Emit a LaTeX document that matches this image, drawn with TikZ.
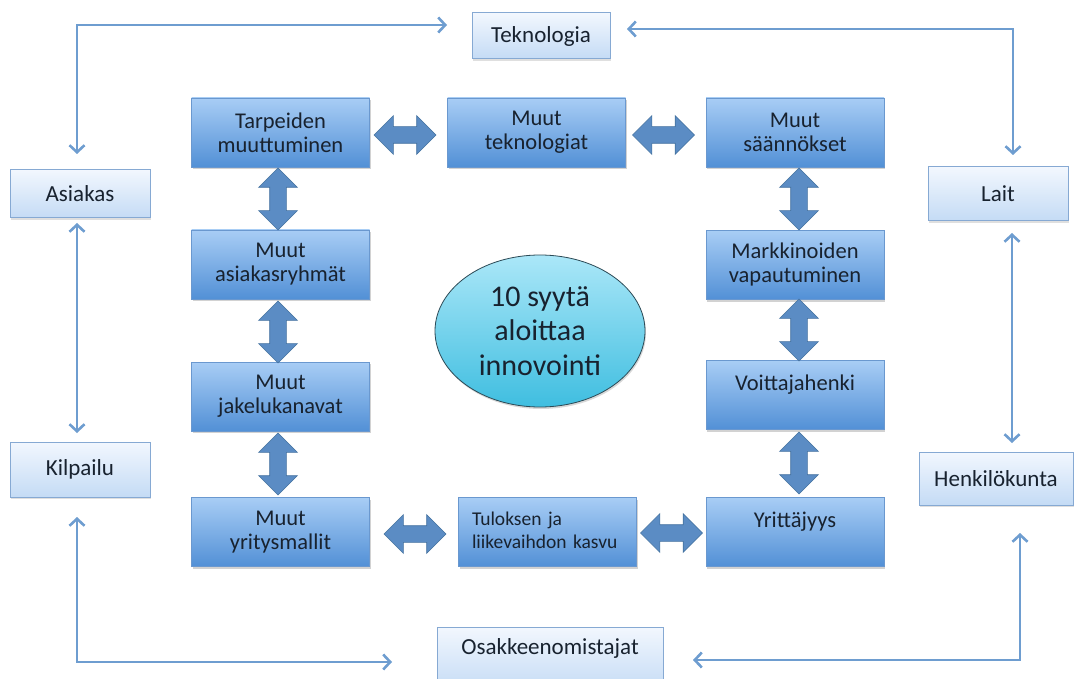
\documentclass[tikz,border=0pt]{standalone}
\usepackage{fontspec}
\setmainfont{Carlito}
\usetikzlibrary{shapes.geometric,shapes.arrows,arrows.meta,shadows,calc}

\definecolor{txt}{HTML}{18222F}
\definecolor{boxtop}{HTML}{A8CDF5}
\definecolor{boxbot}{HTML}{5290D6}
\definecolor{boxline}{HTML}{6A98CF}
\definecolor{outtop}{HTML}{F2F7FE}
\definecolor{outbot}{HTML}{C4DBF5}
\definecolor{outline}{HTML}{86A9D3}
\definecolor{arrfill}{HTML}{5B8CC4}
\definecolor{arrline}{HTML}{44729F}
\definecolor{linkcol}{HTML}{6E9DD0}
\definecolor{elltop}{HTML}{ABE7F8}
\definecolor{ellbot}{HTML}{3FBEE0}
\definecolor{ellline}{HTML}{2C4A56}

\begin{document}
\begin{tikzpicture}[x=1pt,y=-1pt,
  factor/.style={draw=boxline, line width=0.6pt, top color=boxtop, bottom color=boxbot,
    minimum width=178pt, minimum height=69pt, inner sep=0pt, align=center,
    font=\fontsize{22.5}{24}\selectfont, text=txt,
    drop shadow={opacity=0.35, shadow xshift=1pt, shadow yshift=-2pt}},
  outer/.style={draw=outline, line width=1pt, top color=outtop, bottom color=outbot,
    inner sep=0pt, align=center, font=\fontsize{23}{24}\selectfont, text=txt,
    drop shadow={opacity=0.25, shadow xshift=1pt, shadow yshift=-2pt}},
  link/.style={draw=linkcol, line width=2.6pt,
    {Straight Barb[length=7pt,width=15pt]}-{Straight Barb[length=7pt,width=15pt]}},
  twoway/.style={double arrow, draw=arrline, fill=arrfill, line width=0.6pt,
    minimum height=62pt, minimum width=38pt, double arrow head extend=11pt,
    inner xsep=0pt, inner ysep=8pt},
]
\useasboundingbox (0,0) rectangle (1074,679);
\clip (0,0) rectangle (1074,679);
\fill[white] (0,0) rectangle (1074,679);

% inner ring of factors
\node[factor] (tarp)  at (280.5,132.5) {Tarpeiden\\muuttuminen};
\node[factor] (mtek)  at (536.5,132.5) {Muut\\teknologiat};
\node[factor] (msaan) at (795,132.5)   {Muut\\säännökset};
\node[factor] (masi)  at (280.5,264.5) {Muut\\asiakasryhmät};
\node[factor] (mark)  at (795,265)     {Markkinoiden\\vapautuminen};
\node[factor] (mjak)  at (280.5,396.5) {Muut\\jakelukanavat};
\node[factor] (voit)  at (795,395)     {Voittajahenki\\\phantom{X}};
\node[factor] (myri)  at (280.5,532)   {Muut\\yritysmallit};
\node[factor, align=left, text width=151pt, font=\fontsize{19.5}{23}\selectfont,
      text depth=26pt]
      (tulos) at (547.5,532) {Tuloksen ja\\liikevaihdon kasvu};
\node[factor] (yrit)  at (795,532)     {Yrittäjyys\\\phantom{X}};

% centre
\node[ellipse, draw=ellline, line width=0.8pt, top color=elltop, bottom color=ellbot,
      minimum width=210pt, minimum height=152pt, inner sep=0pt, align=center,
      font=\fontsize{30}{34.5}\selectfont, text=txt,
      drop shadow={opacity=0.3, shadow xshift=1pt, shadow yshift=-2pt}]
      (core) at (540,331) {10 syytä\\aloittaa\\innovointi};

% outer stakeholders
\node[outer, minimum width=138pt, minimum height=46pt] (tekno) at (541,36)    {Teknologia};
\node[outer, minimum width=140pt, minimum height=48pt] (asiak) at (80,194)    {Asiakas};
\node[outer, minimum width=140pt, minimum height=55pt] (kilp)  at (80,469.5)  {Kilpailu};
\node[outer, minimum width=140pt, minimum height=54pt] (lait)  at (998,194)   {Lait};
\node[outer, minimum width=154pt, minimum height=53pt] (henk)  at (996,478.5) {Henkilökunta};
\node[outer, minimum width=226pt, minimum height=64pt] (osak)  at (550,659)   {Osakkeenomistajat\\\phantom{X}};

% block arrows between factors
\node[twoway] (t1) at (405,135)   {};
\node[twoway] (t2) at (663.5,135) {};
\node[twoway] (t3) at (415,534)   {};
\node[twoway] (t4) at (671.5,533) {};
\node[twoway, rotate=90] (t5) at (278,199) {};
\node[twoway, rotate=90] (t6) at (278,332) {};
\node[twoway, rotate=90] (t7) at (278,464) {};
\node[twoway, rotate=90] (t8) at (799,199) {};
\node[twoway, rotate=90] (t9) at (799,330) {};
\node[twoway, rotate=90] (t10) at (799,463) {};

% outer connector ends
\coordinate (asiakN) at (77,154);
\coordinate (teknoW) at (447,25);
\coordinate (teknoE) at (627,29);
\coordinate (laitN)  at (1013,155);
\coordinate (asiakS) at (77,223);
\coordinate (kilpN)  at (77,433);
\coordinate (kilpS)  at (77,517);
\coordinate (osakW)  at (392,662);
\coordinate (laitS)  at (1012,233);
\coordinate (henkN)  at (1012,443);
\coordinate (henkS)  at (1020,533);
\coordinate (osakE)  at (693,660);

\draw[link] (asiakN) |- (teknoW);
\draw[link] (teknoE) -| (laitN);
\draw[link] (asiakS) -- (kilpN);
\draw[link] (kilpS) |- (osakW);
\draw[link] (laitS) -- (henkN);
\draw[link] (henkS) |- (osakE);
\end{tikzpicture}
\end{document}
